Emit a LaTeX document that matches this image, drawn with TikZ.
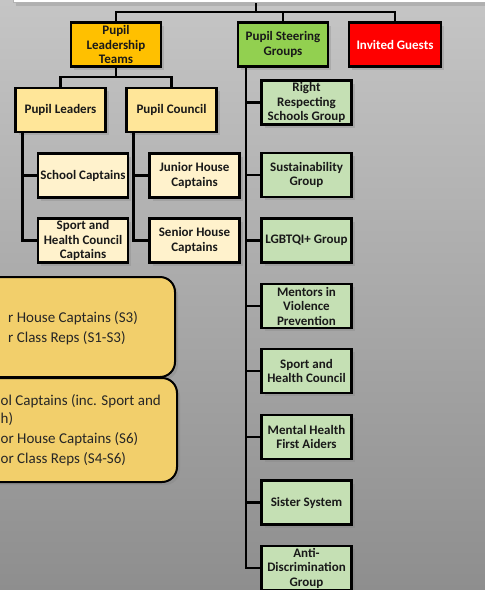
\documentclass[tikz,border=0pt]{standalone}
\usepackage{fontspec}
\setmainfont{Carlito}
\usetikzlibrary{shadows, positioning}

\definecolor{bgtop}{RGB}{197, 197, 197}
\definecolor{bgbottom}{RGB}{142, 142, 142}
\definecolor{leadorange}{RGB}{255, 192, 0}
\definecolor{leadpale}{RGB}{255, 230, 153}
\definecolor{leadcream}{RGB}{255, 242, 204}
\definecolor{steergreen}{RGB}{146, 208, 80}
\definecolor{steerpale}{RGB}{197, 224, 180}
\definecolor{guestred}{RGB}{255, 0, 0}
\definecolor{notegold}{RGB}{242, 207, 107}

\tikzset{
  softshadow/.style={drop shadow={shadow xshift=3pt, shadow yshift=-3pt, opacity=0.3}},
  unitbox/.style={draw=black, line width=2.3pt, minimum width=90pt, minimum height=44pt,
    inner sep=0pt, align=center, text=black!90, softshadow,
    font=\fontsize{13}{14.5}\selectfont\bfseries},
  link/.style={draw=black, line width=2.3pt},
  notebox/.style={draw=black, line width=2pt, fill=notegold, rounded corners=15pt, softshadow},
  notetext/.style={anchor=west, inner sep=0pt, align=left, text=black!85,
    font=\fontsize{15}{18}\selectfont}
}

\begin{document}
\begin{tikzpicture}[x=1pt, y=-1pt]
  \useasboundingbox (0,0) rectangle (485,590);
  \shade[top color=bgtop, bottom color=bgbottom] (0,0) rectangle (485,590);

  % Top of chart
  \node[draw=gray!60, fill=white, line width=0.6pt, minimum width=485pt, minimum height=12pt,
    anchor=south west, softshadow] (banner) at (13,3) {};
  \coordinate (hub) at (256,12);

  % Main groups
  \node[unitbox, fill=leadorange] (plt) at (116,44.5) {Pupil\\Leadership\\Teams};
  \node[unitbox, fill=steergreen] (psg) at (283,44.5) {Pupil Steering\\Groups};
  \node[unitbox, fill=guestred, text=white, minimum width=92pt] (guests) at (395,44.5) {Invited Guests};

  \draw[link] (banner.south -| hub) -- (hub);
  \draw[link] (plt.north) |- (hub) -| (guests.north);
  \draw[link] (hub) -| (psg.north);

  % Leadership teams
  \coordinate (pltfork) at (116,77);
  \node[unitbox, fill=leadpale] (leaders) at (60.5,110) {Pupil Leaders};
  \node[unitbox, fill=leadpale] (council) at (171.5,110) {Pupil Council};

  \draw[link] (plt.south) -- (pltfork);
  \draw[link] (leaders.north) |- (pltfork) -| (council.north);

  \node[unitbox, fill=leadcream] (schoolcap) at (83,175.5) {School Captains};
  \node[unitbox, fill=leadcream] (sportcap) at (83,240.5) {Sport and\\Health Council\\Captains};
  \node[unitbox, fill=leadcream] (juniorcap) at (194.5,175.5) {Junior House\\Captains};
  \node[unitbox, fill=leadcream] (seniorcap) at (194.5,240.5) {Senior House\\Captains};

  \draw[link] ([xshift=8pt]leaders.south west) |- (schoolcap.west);
  \draw[link] ([xshift=8pt]leaders.south west) |- (sportcap.west);
  \draw[link] ([xshift=8pt]council.south west) |- (juniorcap.west);
  \draw[link] ([xshift=8pt]council.south west) |- (seniorcap.west);

  % Steering groups
  \node[unitbox, fill=steerpale] (rrs) at (306.5,102.5) {Right\\Respecting\\Schools Group};
  \node[unitbox, fill=steerpale] (sustain) at (306.5,175) {Sustainability\\Group};
  \node[unitbox, fill=steerpale] (lgbt) at (306.5,240.5) {LGBTQI+ Group};
  \node[unitbox, fill=steerpale] (mentors) at (306.5,306) {Mentors in\\Violence\\Prevention};
  \node[unitbox, fill=steerpale] (sporthealth) at (306.5,371) {Sport and\\Health Council};
  \node[unitbox, fill=steerpale] (mental) at (306.5,437) {Mental Health\\First Aiders};
  \node[unitbox, fill=steerpale] (sister) at (306.5,502.5) {Sister System};
  \node[unitbox, fill=steerpale] (antidisc) at (306.5,568) {Anti-\\Discrimination\\Group};

  \foreach \g in {rrs, sustain, lgbt, mentors, sporthealth, mental, sister, antidisc}
    \draw[link] ([xshift=9pt]psg.south west) |- (\g.west);

  % Year group notes
  \draw[notebox] (-30,277) rectangle (175,377);
  \draw[notebox] (-30,378) rectangle (177,482);

  \node[notetext] (juniornotes) at (8,328) {r House Captains (S3)\\[2pt]r Class Reps (S1-S3)};
  \node[notetext] (seniornotes) at (0.5,430) {ol Captains (inc. Sport and\\h)\\[2pt]or House Captains (S6)\\[2pt]or Class Reps (S4-S6)};
\end{tikzpicture}
\end{document}
